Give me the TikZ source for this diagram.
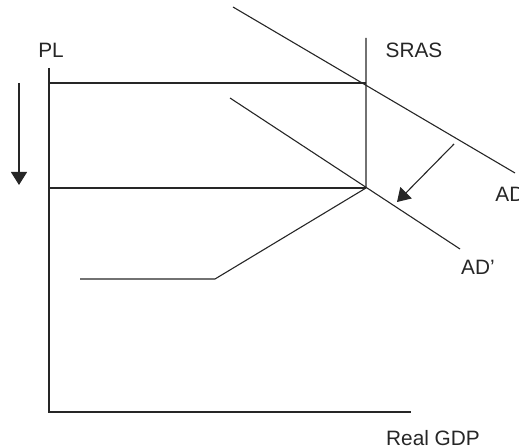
\documentclass[tikz,border=0pt]{standalone}
\usepackage{fontspec}
\setmainfont{Liberation Sans}
\usetikzlibrary{arrows.meta}
\tikzset{
  lbl/.style={font=\fontsize{10.4}{12}\selectfont, inner sep=0pt, text=black!85},
  curve/.style={line width=0.55pt, draw=black!85},
  shift arrow/.style={curve, -{Triangle[length=6.5pt,width=8pt]}}
}
\begin{document}
\begin{tikzpicture}[x=0.5pt,y=-0.5pt]
        \useasboundingbox (0,0) rectangle (519,448);
        % axes
        \draw [curve, line width=0.7pt] (49,68) -- (49,412) -- (411,412);
        % price level lines
        \coordinate (eqold) at (366,83);
        \coordinate (eqnew) at (366,188);
        \draw [curve] (49,83) -- (eqold);
        \draw [curve] (49,188) -- (eqnew);
        % SRAS
        \draw [curve] (366,38) -- (eqnew) -- (215,279) -- (80,279);
        % AD and AD'
        \draw [curve] (233,7) -- (515,173);
        \draw [curve] (230,98) -- (460,249);
        % arrows
        \draw [shift arrow] (19,83) -- (19,185);
        \draw [shift arrow] (454,144) -- (397,202);
        % lecter
        \node [lbl] (pl) at (51,50) {PL};
        \node [lbl] (sras) at (414,50) {SRAS};
        \node [lbl, anchor=west] (ad) at (495,194) {AD};
        \node [lbl] (adnew) at (478,267) {AD’};
        \node [lbl] (gdp) at (433,438) {Real GDP};
\end{tikzpicture}
\end{document}
